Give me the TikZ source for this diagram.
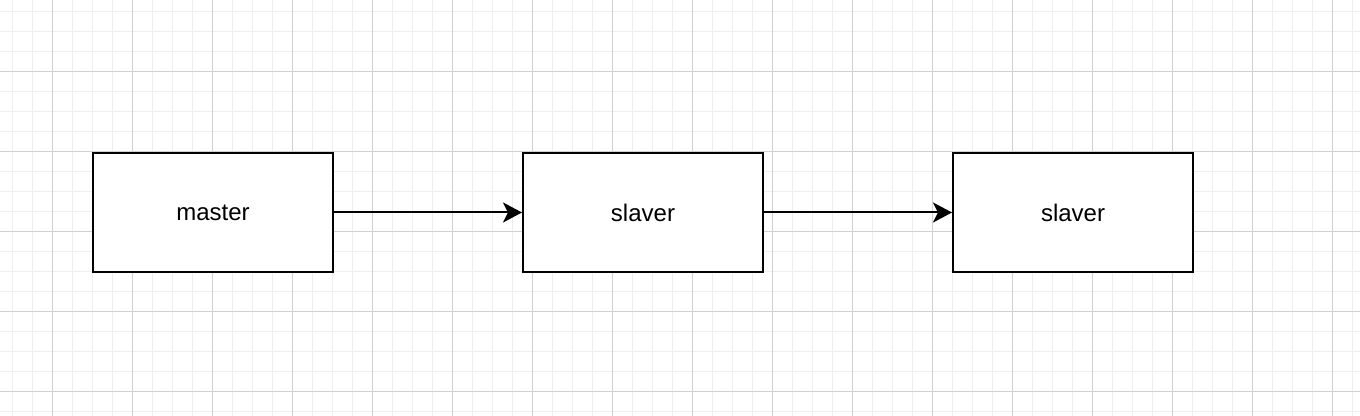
\documentclass[tikz,border=0pt]{standalone}
\usepackage{fontspec}
\setmainfont{Liberation Sans}
\usetikzlibrary{arrows.meta}

\begin{document}
\begin{tikzpicture}[line cap=rect,line join=miter,x=0.5pt,y=-0.5pt,
    minor/.style={line width=0.5pt, draw={rgb,255:red,238;green,238;blue,238}},
    major/.style={line width=0.5pt, draw={rgb,255:red,208;green,208;blue,208}},
    box/.style={rectangle, draw, line width=1pt, minimum width=120pt, minimum height=59.5pt, inner sep=0pt, font=\fontsize{12}{14}\selectfont},
    link/.style={line width=1pt, -{Stealth[length=9.5pt,width=10pt,inset=2.5pt]}}]
    \useasboundingbox (0,0) rectangle (1360,416);
    \fill[white] (0,0) rectangle (1360,416);

    % background grid
    \foreach \x in {12,32,...,1352} \draw[minor] (\x,0) -- (\x,416);
    \foreach \y in {12,32,...,412} \draw[minor] (0,\y) -- (1360,\y);
    \foreach \x in {52,132,...,1352} \draw[major] (\x,0) -- (\x,416);
    \foreach \y in {72,152,...,412} \draw[major] (0,\y) -- (1360,\y);

    \node[box, fill=white] (master) at (213,212.5) {master};
    \node[box, fill=white] (slaver) at (643,212.5) {slaver};
    \node[box, fill=white] (slaver2) at (1073,212.5) {slaver};

    \draw[link] (master) -- (slaver);
    \draw[link] (slaver) -- (slaver2);
\end{tikzpicture}
\end{document}
